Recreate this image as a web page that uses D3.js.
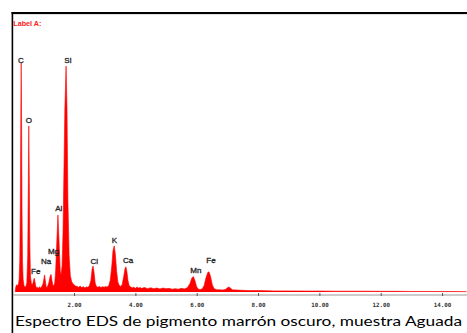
<!DOCTYPE html>
<html>
<head>
<meta charset="utf-8">
<script src="https://cdn.jsdelivr.net/npm/d3@7"></script>
<style>
  html, body { margin: 0; padding: 0; background: #fff; }
  svg { display: block; }
</style>
</head>
<body>
<svg id="chart" width="467" height="333"></svg>
<script>
// ---- data ----
const spectrumKeV = [
  0.08, 0.10, 0.13, 0.16, 0.19, 0.21, 0.23, 0.25, 0.265, 0.277, 0.29, 0.305, 0.32, 0.34, 0.37, 0.40, 0.43, 0.46,
  0.49, 0.51, 0.525, 0.54, 0.56, 0.58, 0.61, 0.64, 0.67, 0.69, 0.705, 0.72, 0.75, 0.78, 0.81, 0.84, 0.87, 0.90,
  0.93, 0.96, 0.99, 1.02, 1.04, 1.06, 1.09, 1.12, 1.15, 1.18, 1.22, 1.25, 1.28, 1.31, 1.34, 1.37, 1.40, 1.44,
  1.475, 1.51, 1.55, 1.58, 1.61, 1.64, 1.67, 1.70, 1.74, 1.77, 1.80, 1.84, 1.88, 1.92, 1.96, 2.00, 2.05, 2.10,
  2.15, 2.20, 2.25, 2.30, 2.35, 2.40, 2.45, 2.50, 2.55, 2.59, 2.62, 2.65, 2.69, 2.73, 2.78, 2.83, 2.88, 2.93,
  2.98, 3.03, 3.08, 3.13, 3.18, 3.23, 3.27, 3.31, 3.35, 3.39, 3.43, 3.47, 3.52, 3.57, 3.62, 3.66, 3.69, 3.72,
  3.76, 3.80, 3.85, 3.90, 3.95, 4.00, 4.05, 4.10, 4.15, 4.20, 4.30, 4.40, 4.50, 4.60, 4.70, 4.80, 4.90, 5.00,
  5.10, 5.20, 5.30, 5.40, 5.50, 5.60, 5.70, 5.78, 5.84, 5.89, 5.94, 6.00, 6.06, 6.12, 6.18, 6.24, 6.30, 6.36,
  6.40, 6.45, 6.51, 6.57, 6.65, 6.75, 6.85, 6.95, 7.00, 7.05, 7.10, 7.16, 7.30, 7.50, 7.70, 7.90, 8.10, 8.50,
  9.00, 9.50, 10.00, 10.50, 11.00, 11.50, 12.00, 12.50, 13.00, 13.50, 14.00, 14.50, 14.80
];
const spectrumCounts = [
  0, 18, 26, 22, 30, 45, 110, 320, 650, 818, 600, 280, 110, 45, 22, 18, 20, 32,
  130, 390, 593, 420, 160, 55, 30, 26, 36, 46, 49, 40, 22, 14, 17, 12, 19, 14,
  17, 22, 30, 48, 61, 44, 20, 16, 24, 34, 56, 63, 42, 24, 22, 32, 75, 185,
  275, 185, 75, 62, 95, 210, 430, 650, 807, 660, 330, 130, 58, 38, 30, 26, 21, 20,
  17, 21, 16, 19, 15, 18, 17, 22, 42, 82, 93, 72, 32, 20, 17, 20, 16, 19,
  17, 20, 18, 22, 42, 92, 148, 165, 132, 72, 36, 24, 20, 27, 56, 82, 90, 76,
  40, 22, 18, 15, 17, 13, 18, 14, 16, 13, 16, 12, 15, 12, 14, 11, 14, 12,
  13, 10, 12, 10, 13, 11, 16, 30, 50, 55, 42, 18, 10, 9, 12, 22, 50, 70,
  72, 56, 25, 12, 8, 8, 7, 10, 15, 18, 14, 8, 7, 6, 5, 5, 5, 4,
  4, 3.5, 3.5, 3, 3, 3, 2.5, 2.5, 2, 2, 1.5, 1.5, 1.2
];
const tickValues = [2, 4, 6, 8, 10, 12, 14];
const tickLabels = ["2.00", "4.00", "6.00", "8.00", "10.00", "12.00", "14.00"];
const labelElements = ["C", "Si", "O", "Al", "Mg", "Na", "Fe", "Cl", "K", "Ca", "Mn", "Fe"];
const labelKeV      = [0.27, 1.80, 0.525, 1.503, 1.33, 1.086, 0.753, 2.657, 3.319, 3.76, 5.97, 6.466];
const labelCounts   = [819, 819, 602, 290, 136, 100, 64, 99, 174, 102, 67, 102];
const panelLabel = "Label A:";
const caption = "Espectro EDS de pigmento marrón oscuro, muestra Aguada";

// ---- drawing ----
const svg = d3.select("#chart");
const x = d3.scaleLinear().domain([0, 14.8]).range([12.7, 466.6]);
const y = d3.scaleLinear().domain([0, 1000]).range([292, 12]);

const pts = spectrumKeV.map((k, i) => [k, spectrumCounts[i]]);

// frame
svg.append("line").attr("x1", 12).attr("x2", 467).attr("y1", 14.6).attr("y2", 14.6)
  .attr("stroke", "#ddd").attr("stroke-width", 1);
svg.append("line").attr("x1", 11.5).attr("x2", 467).attr("y1", 13).attr("y2", 13)
  .attr("stroke", "#000").attr("stroke-width", 1.8);
svg.append("line").attr("x1", 12.4).attr("x2", 12.4).attr("y1", 12).attr("y2", 333)
  .attr("stroke", "#000").attr("stroke-width", 1.6);

// spectrum
const area = d3.area().x(d => x(d[0])).y0(y(0)).y1(d => y(d[1]));
svg.append("path").datum(pts).attr("d", area).attr("fill", "#ff0000");
svg.append("path").datum(pts)
  .attr("d", d3.line().x(d => x(d[0])).y(d => y(d[1])))
  .attr("fill", "none").attr("stroke", "#ff0000").attr("stroke-width", 0.6);

// axis
const axis = d3.axisBottom(x).tickValues(tickValues)
  .tickFormat((d, i) => tickLabels[i]).tickSizeInner(3).tickSizeOuter(0).tickPadding(7);
const gA = svg.append("g").attr("transform", "translate(0,293)").call(axis);
gA.select(".domain").attr("stroke", "#999").attr("stroke-width", 1).attr("transform", "translate(0,1.5)");
gA.selectAll(".tick line").attr("stroke", "#555").attr("stroke-width", 1);
gA.selectAll(".tick text")
  .attr("font-family", "'DejaVu Sans Mono', monospace")
  .attr("font-weight", "bold").attr("font-size", 5.8).attr("fill", "#333");

// peak labels
svg.append("g").selectAll("text").data(labelElements).join("text")
  .attr("x", (d, i) => x(labelKeV[i]))
  .attr("y", (d, i) => y(labelCounts[i]))
  .attr("text-anchor", "middle")
  .attr("font-family", "'Liberation Sans', Arial, sans-serif")
  .attr("font-size", 8).attr("fill", "#222")
  .attr("stroke", "#222").attr("stroke-width", 0.3)
  .text(d => d);

// panel label
svg.append("text").attr("x", 13.3).attr("y", 26)
  .attr("font-family", "'Liberation Sans', Arial, sans-serif")
  .attr("font-weight", "bold").attr("font-size", 7.2).attr("fill", "#ff2020")
  .text(panelLabel);

// caption
svg.append("text").attr("x", 15).attr("y", 326)
  .attr("font-family", "Lato, 'Open Sans', sans-serif")
  .attr("font-size", 13.5).attr("fill", "#000")
  .attr("textLength", 447).attr("lengthAdjust", "spacingAndGlyphs")
  .text(caption);
</script>
</body>
</html>
